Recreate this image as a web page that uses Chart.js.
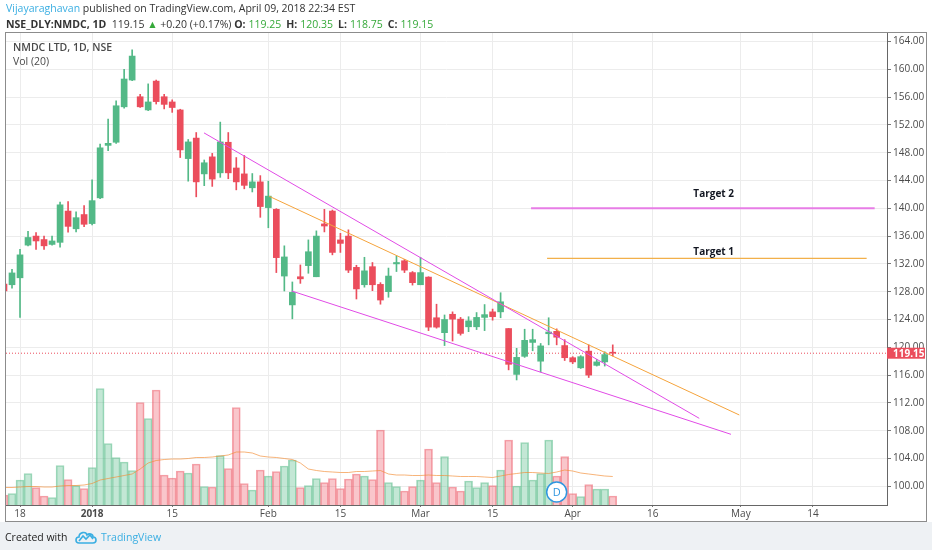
<!DOCTYPE html>
<html>
<head>
<meta charset="utf-8">
<script src="https://cdn.jsdelivr.net/npm/chart.js@4.4.0/dist/chart.umd.min.js"></script>
<style>
html,body{margin:0;padding:0;background:#fff;width:932px;height:550px;overflow:hidden;font-family:"Open Sans","Liberation Sans",sans-serif;}
#wrap{position:relative;width:932px;height:550px;}
#footer{position:absolute;left:0;top:522px;width:932px;height:28px;background:#eef1f4;}
#c{position:absolute;left:0;top:0;}
#frame{position:absolute;left:5px;top:32px;width:920px;height:488px;border:1px solid #8c8c8c;pointer-events:none;}
.t{position:absolute;white-space:nowrap;color:#333;}
#h1{left:6px;top:1px;font-size:10.5px;}
#h2{left:6px;top:17px;font-size:10.5px;}
#h2 .v{margin-left:3px;margin-right:5px;}
.blue{color:#3aaee2;}
.grn{color:#36a93a;}
#l1{left:13px;top:40px;font-size:10.5px;font-weight:600;color:#4a4a4a;}
#l2{left:13px;top:54px;font-size:10.5px;color:#4a4a4a;}
#cw{left:5px;top:530px;font-size:10.5px;color:#222;}
#tv{left:101px;top:530px;font-size:10.5px;color:#3aaee2;}
#logo{position:absolute;left:75px;top:530px;}
</style>
</head>
<body>
<div id="wrap">
<div id="footer"></div>
<canvas id="c" width="932" height="550"></canvas>
<div id="frame"></div>
<div class="t" id="h1"><span class="blue">Vijayaraghavan</span> published on TradingView.com, April 09, 2018 22:34 EST</div>
<div class="t" id="h2"><b>NSE_DLY:NMDC, 1D</b>&nbsp; 119.15 <span class="grn">&#9650;</span> +0.20 (+0.17%) <b>O:</b><span class="grn v">119.25</span><b>H:</b><span class="grn v">120.35</span><b>L:</b><span class="grn v">118.75</span><b>C:</b><span class="grn v">119.15</span></div>
<div class="t" id="l1">NMDC LTD, 1D, NSE</div>
<div class="t" id="l2">Vol (20)</div>
<div class="t" id="cw">Created with</div>
<svg id="logo" width="22" height="14" viewBox="0 0 22 14"><path d="M4 13 C0 13 0 7 4 7 C4 2 11 1 12 5 C14 3 18 4 18 7 C22 7 22 13 18 13 Z" fill="none" stroke="#3aaee2" stroke-width="1.6"/><path d="M4 11 L8 6 L11 9 L15 5 L18 9" fill="none" stroke="#3aaee2" stroke-width="1.6"/></svg>
<div class="t" id="tv">TradingView</div>
</div>
<script>
// ---- data ----
const dates = ['2017-12-14','2017-12-15','2017-12-18','2017-12-19','2017-12-20','2017-12-21','2017-12-22','2017-12-26','2017-12-27','2017-12-28','2017-12-29',
'2018-01-01','2018-01-02','2018-01-03','2018-01-04','2018-01-05','2018-01-08','2018-01-09','2018-01-10','2018-01-11','2018-01-12','2018-01-15','2018-01-16','2018-01-17','2018-01-18','2018-01-19','2018-01-22','2018-01-23','2018-01-24','2018-01-25','2018-01-29','2018-01-30','2018-01-31',
'2018-02-01','2018-02-02','2018-02-05','2018-02-06','2018-02-07','2018-02-08','2018-02-09','2018-02-12','2018-02-14','2018-02-15','2018-02-16','2018-02-19','2018-02-20','2018-02-21','2018-02-22','2018-02-23','2018-02-26','2018-02-27','2018-02-28',
'2018-03-01','2018-03-05','2018-03-06','2018-03-07','2018-03-08','2018-03-09','2018-03-12','2018-03-13','2018-03-14','2018-03-15','2018-03-16','2018-03-19','2018-03-20','2018-03-21','2018-03-22','2018-03-23','2018-03-26','2018-03-27','2018-03-28',
'2018-04-02','2018-04-03','2018-04-04','2018-04-05','2018-04-06','2018-04-09'];
const opens = [129.1,129.0,130.0,134.7,136.0,135.5,134.8,135.1,139.6,137.05,139.1,137.8,141.5,149.05,149.5,154.6,158.45,156.05,154.15,158.3,156.05,155.3,154.15,147.15,150.1,144.95,147.4,145.1,149.5,145.8,144.95,142.95,143.8,140.1,139.85,130.25,126.1,130.15,131.75,130.15,137.75,139.6,135.45,136.0,131.5,129.0,131.6,129.05,128.0,132.0,132.45,130.75,129.0,130.1,124.25,122.1,124.75,124.05,122.95,122.95,124.3,125.1,125.1,122.7,116.1,118.7,120.7,118.0,121.95,122.3,120.25,118.5,117.05,119.45,117.4,117.9,119.25];
const highs = [129.5,131.2,134.1,136.7,136.5,136.0,136.0,140.9,140.95,139.5,140.4,144.1,149.25,152.85,155.45,160.0,162.8,156.4,157.9,158.45,156.4,155.6,154.25,149.9,150.9,146.95,147.9,152.4,150.9,147.3,147.6,145.0,144.7,143.9,139.95,134.6,129.4,131.85,135.45,136.75,139.85,139.75,136.4,136.9,131.8,132.95,132.2,129.3,131.4,133.15,132.65,130.9,132.95,130.15,126.2,124.65,125.1,124.3,124.4,125.0,126.15,125.5,127.85,122.7,119.85,122.6,122.6,120.55,124.25,122.65,121.1,118.65,118.8,120.35,118.25,119.35,120.35];
const lows = [127.8,128.5,124.3,134.6,134.1,134.1,134.7,134.4,136.55,136.6,137.35,137.6,141.4,148.3,149.35,154.4,158.35,154.5,154.05,155.0,154.3,153.8,147.3,143.9,141.65,143.25,143.15,144.45,144.25,142.65,142.8,142.35,138.7,137.2,130.75,128.1,124.1,129.2,130.65,130.15,136.6,133.3,133.65,130.75,126.95,128.65,128.15,126.2,127.2,130.9,130.75,128.95,129.0,122.4,122.75,120.25,120.9,121.75,122.25,122.55,122.4,123.9,124.25,116.75,115.3,118.55,119.5,116.45,120.35,120.35,118.1,117.65,116.95,115.65,117.3,117.3,118.75];
const closes = [128.1,130.7,133.3,135.8,135.3,134.6,135.3,140.5,137.4,138.65,137.7,141.1,148.7,149.35,154.75,158.6,161.9,154.6,155.3,155.35,154.95,154.5,148.4,149.55,143.8,146.55,144.2,149.55,145.1,143.8,143.3,143.8,140.25,141.75,132.9,133.0,127.9,129.85,133.75,136.0,137.45,133.65,134.95,131.1,128.4,131.0,129.0,126.8,130.25,132.2,131.1,129.3,130.75,122.9,122.9,124.0,124.05,122.0,123.8,124.3,124.7,124.4,126.55,117.55,118.55,121.0,121.1,120.2,122.2,121.45,118.5,117.9,118.65,116.0,117.9,118.95,119.15];
// volume, millions of shares
const volumes = [2.0,2.3,5.0,6.3,3.5,1.8,1.5,7.9,5.1,3.9,3.3,7.5,23.3,12.3,9.5,8.6,6.9,20.5,17.3,23.0,6.0,5.4,6.8,6.4,8.2,3.7,3.6,9.9,7.3,19.5,4.3,3.0,7.0,5.8,6.7,7.8,9.0,3.5,3.9,5.3,4.5,5.3,3.3,5.2,6.2,5.8,5.1,15.0,4.5,3.7,2.8,3.7,5.0,11.2,4.5,9.7,3.6,2.8,4.8,3.5,4.5,3.9,7.0,13.0,3.8,12.5,5.0,6.3,13.0,5.8,9.7,2.3,1.7,4.1,3.2,3.2,1.8];
// Vol (20) moving average as drawn
const volMA = [3.5,3.5,3.6,3.7,3.7,3.6,3.6,3.8,3.9,3.9,4.0,4.3,5.0,5.3,5.6,5.9,6.2,7.2,8.4,8.9,9.1,9.2,9.2,9.3,9.5,9.5,9.6,9.8,10.0,10.6,10.6,10.4,9.8,9.6,9.5,9.3,9.1,8.4,7.2,6.9,6.7,6.6,6.5,6.5,6.7,6.7,6.8,6.9,6.2,6.0,6.0,5.9,5.9,6.0,5.9,5.9,5.8,5.7,5.7,5.7,5.6,5.5,5.8,6.1,6.3,6.5,6.5,6.4,6.3,6.6,7.0,6.8,6.4,6.2,6.0,5.8,5.7];

// x tick labels (positions in trading-day index; future days are weekdays)
const xTickIdx  = [2, 11, 21, 33, 42, 52, 61, 71, 81, 92, 101];
const xTickText = ['18','2018','15','Feb','15','Mar','15','Apr','16','May','14'];
const priceTicks = [100,104,108,112,116,120,124,128,132,136,140,144,148,152,156,160,164];

// drawings (index, price)
const upperLineX = [24.97, 86.8],  upperLineY = [150.85, 109.78];
const lowerLineX = [35.92, 90.76], lowerLineY = [128.1, 107.48];
const orangeLineX = [33.1, 91.8],  orangeLineY = [141.73, 110.26];
const target2X = [65.8, 108.7], target2Y = [140.0, 140.0];
const target1X = [67.8, 107.7], target1Y = [132.8, 132.8];
const targetLabels = [{text:'Target 2', x:88.6, y:142.0},{text:'Target 1', x:88.6, y:133.7}];
const dividendIdx = 69, dividendLevel = 2.6;

// view range
const xMin = 0.25, xMax = 110.24, yMin = 97.31, yMax = 165.22, volMax = 94.4;

const UP = '#53b987', DOWN = '#eb4d5c';
const idx = closes.map((_, i) => i);
const isUp = idx.map(i => closes[i] >= opens[i]);
const candleColors = isUp.map(u => u ? UP : DOWN);
const volFill = isUp.map(u => u ? 'rgba(83,185,135,0.35)' : 'rgba(235,77,92,0.32)');
const volBorder = isUp.map(u => u ? 'rgba(83,185,135,0.55)' : 'rgba(235,77,92,0.5)');
const lastClose = closes[closes.length - 1];
const pts = (xs, ys) => xs.map((x, i) => ({x, y: ys[i]}));

const FONT = '"Open Sans","Liberation Sans",sans-serif';

const overlay = {
  id: 'overlay',
  afterDatasetsDraw(chart) {
    const {ctx, scales} = chart;
    const x = scales.x, y = scales.y, yv = scales.yv;
    ctx.save();
    ctx.font = 'bold 10px ' + FONT;
    ctx.fillStyle = '#131722';
    ctx.textAlign = 'center';
    ctx.textBaseline = 'middle';
    targetLabels.forEach(t => ctx.fillText(t.text, x.getPixelForValue(t.x), y.getPixelForValue(t.y)));
    const dx = x.getPixelForValue(dividendIdx), dy = yv.getPixelForValue(dividendLevel);
    ctx.beginPath();
    ctx.arc(dx, dy, 10, 0, Math.PI * 2);
    ctx.fillStyle = '#fff';
    ctx.fill();
    ctx.lineWidth = 1.5;
    ctx.strokeStyle = '#2f96e0';
    ctx.stroke();
    ctx.fillStyle = '#2f96e0';
    ctx.font = '11px ' + FONT;
    ctx.fillText('D', dx, dy + 0.5);
    ctx.restore();
  },
  afterDraw(chart) {
    const {ctx, scales} = chart;
    const y = scales.y;
    const py = y.getPixelForValue(lastClose);
    ctx.save();
    ctx.fillStyle = DOWN;
    ctx.fillRect(y.left, py - 5.5, 38, 11);
    ctx.fillStyle = '#fff';
    ctx.font = 'bold 10px ' + FONT;
    ctx.textAlign = 'left';
    ctx.textBaseline = 'middle';
    ctx.fillText(lastClose.toFixed(2), y.left + 6, py + 0.5);
    ctx.restore();
  }
};

new Chart(document.getElementById('c'), {
  type: 'bar',
  data: {
    datasets: [
      { type: 'line', label: 'upper', data: pts(upperLineX, upperLineY), borderColor: '#e14be6', borderWidth: 1, pointRadius: 0, yAxisID: 'y', order: 0 },
      { type: 'line', label: 'lower', data: pts(lowerLineX, lowerLineY), borderColor: '#e14be6', borderWidth: 1, pointRadius: 0, yAxisID: 'y', order: 0 },
      { type: 'line', label: 'orange', data: pts(orangeLineX, orangeLineY), borderColor: '#f5a33b', borderWidth: 1, pointRadius: 0, yAxisID: 'y', order: 0 },
      { type: 'line', label: 'target2', data: pts(target2X, target2Y), borderColor: '#e77de6', borderWidth: 2, pointRadius: 0, yAxisID: 'y', order: 0 },
      { type: 'line', label: 'target1', data: pts(target1X, target1Y), borderColor: '#f2b04a', borderWidth: 1.3, pointRadius: 0, yAxisID: 'y', order: 0 },
      { type: 'line', label: 'last', data: [{x: xMin, y: lastClose}, {x: xMax, y: lastClose}], borderColor: DOWN, borderWidth: 1, borderDash: [1, 2], pointRadius: 0, yAxisID: 'y', order: 3 },
      { type: 'bar', label: 'bodies', data: idx.map(i => ({x: i, y: [opens[i], closes[i]]})), backgroundColor: candleColors, borderWidth: 0, barThickness: 6, minBarLength: 1, grouped: false, yAxisID: 'y', order: 1 },
      { type: 'bar', label: 'wicks', data: idx.map(i => ({x: i, y: [lows[i], highs[i]]})), backgroundColor: candleColors, borderWidth: 0, barThickness: 1, grouped: false, yAxisID: 'y', order: 2 },
      { type: 'line', label: 'volMA', data: idx.map(i => ({x: i, y: volMA[i]})), borderColor: 'rgba(242,140,50,0.65)', borderWidth: 1, pointRadius: 0, yAxisID: 'yv', order: 4 },
      { type: 'bar', label: 'volume', data: idx.map(i => ({x: i, y: volumes[i]})), backgroundColor: volFill, borderColor: volBorder, borderWidth: 1, barThickness: 8, grouped: false, yAxisID: 'yv', order: 5 }
    ]
  },
  options: {
    responsive: false,
    animation: false,
    layout: { padding: { left: 6, top: 33, right: 6, bottom: 29 } },
    plugins: { legend: { display: false }, tooltip: { enabled: false } },
    scales: {
      x: {
        type: 'linear', min: xMin, max: xMax, offset: false, position: 'bottom',
        afterBuildTicks: s => { s.ticks = xTickIdx.map(v => ({value: v})); },
        afterFit: s => { s.height = 16; },
        grid: { color: '#ececec', offset: false, tickLength: 2, tickColor: '#777' },
        border: { color: '#666', width: 1 },
        ticks: {
          autoSkip: false, maxRotation: 0, padding: 1, color: '#4a4a4a',
          font: c => ({ family: FONT, size: 10, weight: (c.tick && c.tick.value === 11) ? 'bold' : 'normal' }),
          callback: v => { const k = xTickIdx.indexOf(v); return k >= 0 ? xTickText[k] : ''; }
        }
      },
      y: {
        type: 'linear', position: 'right', min: yMin, max: yMax,
        afterBuildTicks: s => { s.ticks = priceTicks.map(v => ({value: v})); },
        afterFit: s => { s.width = 39; },
        grid: { color: '#ececec', tickLength: 4, tickColor: '#777' },
        border: { color: '#666', width: 1 },
        ticks: { padding: 2, color: '#4a4a4a', font: { family: FONT, size: 10 }, callback: v => Number(v).toFixed(2) }
      },
      yv: { type: 'linear', display: false, min: 0, max: volMax }
    }
  },
  plugins: [overlay]
});
</script>
</body>
</html>
